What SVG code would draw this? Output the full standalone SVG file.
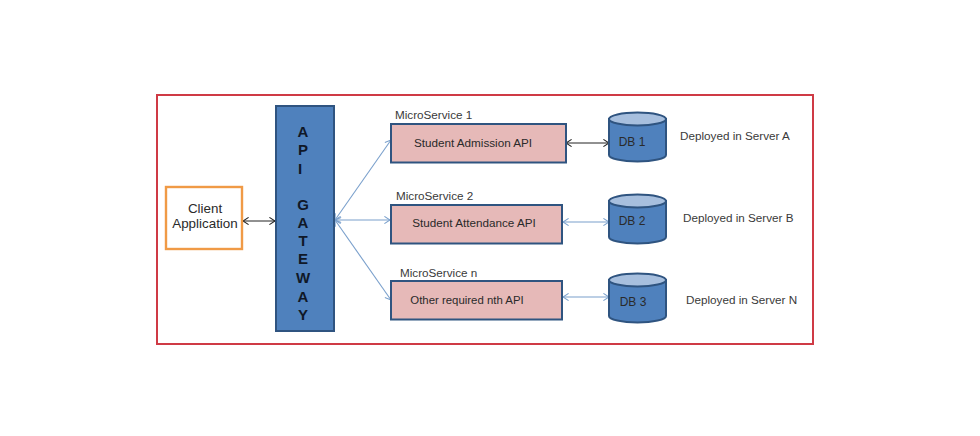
<svg xmlns="http://www.w3.org/2000/svg" width="980" height="436" viewBox="0 0 980 436">
<style>
text{font-family:"Liberation Sans",Arial,sans-serif;font-size:11.7px;fill:#2a2a2a;text-anchor:middle}
.l{text-anchor:start;fill:#3a3a3a}
.svc{fill:#e6b9b8;stroke:#2f5480;stroke-width:2}
.cyl{fill:#4f81bd;stroke:#2f5480;stroke-width:2}
.top{fill:#a7bfde;stroke:#2f5480;stroke-width:2}
.blue{fill:none;stroke:#7aa0cc;stroke-width:1.1;marker-start:url(#ob);marker-end:url(#ob)}
.black{fill:none;stroke:#222;stroke-width:1;marker-start:url(#ok);marker-end:url(#ok)}
.client{font-size:13.4px}
text.gw{font-size:15px;font-weight:bold;fill:#101828}
</style>
<defs>
<marker id="ob" viewBox="0 0 10 10" refX="9" refY="5" markerWidth="8" markerHeight="8" markerUnits="userSpaceOnUse" orient="auto-start-reverse"><path d="M2 0.5L9 5L2 9.5" fill="none" stroke="#7aa0cc" stroke-width="1.3"/></marker>
<marker id="ok" viewBox="0 0 10 10" refX="9" refY="5" markerWidth="8" markerHeight="8" markerUnits="userSpaceOnUse" orient="auto-start-reverse"><path d="M2 0.5L9 5L2 9.5" fill="none" stroke="#222" stroke-width="1.3"/></marker>
</defs>
<rect width="980" height="436" fill="#fff"/>
<rect id="frame" x="157" y="95" width="656" height="249" fill="#fff" stroke="#cf3a45" stroke-width="2"/>
<g id="connectors">
<path class="black" d="M243 221H275"/>
<path class="blue" d="M335 220L391 140"/>
<path class="blue" d="M335 220H390"/>
<path class="blue" d="M335 220L391 300"/>
<path class="black" d="M566 143H609"/>
<path class="blue" d="M563 222H609"/>
<path class="blue" d="M563 297H609"/>
</g>
<g id="client">
<rect x="166" y="187" width="76" height="62" fill="#fff" stroke="#f09a46" stroke-width="2.4"/>
<text class="client" x="205" y="213">Client</text>
<text class="client" x="205" y="228">Application</text>
</g>
<g id="gateway">
<rect x="276" y="106" width="58" height="225" fill="#4f81bd" stroke="#2f5480" stroke-width="2"/>
<text class="gw" x="303" y="137">A</text>
<text class="gw" x="303" y="155">P</text>
<text class="gw" x="300" y="174">I</text>
<text class="gw" x="303" y="210">G</text>
<text class="gw" x="303" y="228">A</text>
<text class="gw" x="303" y="246">T</text>
<text class="gw" x="303" y="264">E</text>
<text class="gw" x="303" y="283">W</text>
<text class="gw" x="303" y="302">A</text>
<text class="gw" x="303" y="320">Y</text>
</g>
<g id="service-1">
<text class="l" x="395" y="119">MicroService 1</text>
<rect class="svc" x="391" y="124" width="175" height="38.500"/>
<text x="473" y="147">Student Admission API</text>
</g>
<g id="service-2">
<text class="l" x="396" y="200">MicroService 2</text>
<rect class="svc" x="391" y="205" width="171" height="38.500"/>
<text x="474" y="227">Student Attendance API</text>
</g>
<g id="service-n">
<text class="l" x="400" y="277">MicroService n</text>
<rect class="svc" x="391" y="281" width="171" height="38.500"/>
<text x="467" y="304" style="font-size:11.4px">Other required nth API</text>
</g>
<g id="db-1">
<path class="cyl" d="M609 119V155A28.500 6.500 0 0 0 666 155V119Z"/>
<ellipse class="top" cx="637.500" cy="119" rx="28.500" ry="6.500"/>
<text x="632" y="146" style="font-size:12px">DB 1</text>
</g>
<g id="db-2">
<path class="cyl" d="M609 201V237A28.500 6.500 0 0 0 666 237V201Z"/>
<ellipse class="top" cx="637.500" cy="201" rx="28.500" ry="6.500"/>
<text x="632" y="225" style="font-size:12px">DB 2</text>
</g>
<g id="db-3">
<path class="cyl" d="M609 280V316A28.500 6.500 0 0 0 666 316V280Z"/>
<ellipse class="top" cx="637.500" cy="280" rx="28.500" ry="6.500"/>
<text x="633" y="306" style="font-size:12px">DB 3</text>
</g>
<g id="notes">
<text class="l" x="680" y="140">Deployed in Server A</text>
<text class="l" x="683" y="222">Deployed in Server B</text>
<text class="l" x="686" y="304">Deployed in Server N</text>
</g>
</svg>
